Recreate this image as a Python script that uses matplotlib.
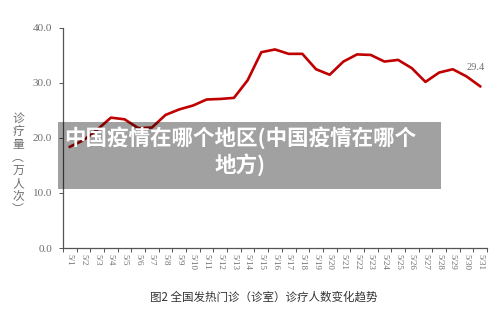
import matplotlib
matplotlib.use("Agg")
import matplotlib.pyplot as plt
from matplotlib.patches import Rectangle

plt.rcParams['font.family'] = ['Noto Sans CJK SC', 'DejaVu Sans']

# data (daily fever-clinic visits, 10k persons)
dates = ["5/%d" % d for d in range(1, 32)]
visits = [18.4, 19.6, 21.5, 23.7, 23.4, 21.8, 21.9, 24.2, 25.2, 25.9,
          27.0, 27.1, 27.3, 30.5, 35.6, 36.1, 35.3, 35.3, 32.5, 31.5,
          33.9, 35.2, 35.1, 33.9, 34.2, 32.7, 30.2, 31.9, 32.5, 31.2, 29.4]
yticks = [0, 10, 20, 30, 40]
ylabel_text = "诊疗量︵万人次︶"
caption = "图2 全国发热门诊（诊室）诊疗人数变化趋势"
banner = "中国疫情在哪个地区(中国疫情在哪个\n地方)"

grey = "#6e6e6e"
serif = ["Liberation Serif", "DejaVu Serif"]

fig = plt.figure(figsize=(5, 3.12), dpi=100)
ax = fig.add_axes([63 / 500, 1 - 248 / 312, 424 / 500, 220 / 312])

x = list(range(len(dates)))
ax.plot(x, visits, color="#c00000", lw=1.9, solid_joinstyle="round")
ax.text(x[-1] - 1.0, visits[-1] + 2.6, "%.1f" % visits[-1], fontsize=7.5,
        color=grey, family=serif, ha="left", va="bottom")

ax.set_xlim(-0.5, len(dates) - 0.5)
ax.set_ylim(0, 40)
ax.set_yticks(yticks)
ax.set_yticklabels(["%.1f" % v for v in yticks], family=serif, fontsize=8, color=grey)
ax.set_xticks(x)
ax.set_xticklabels(dates, rotation=-90, family=serif, fontsize=6.5, color=grey)
ax.set_xticks([i - 0.5 for i in range(len(dates) + 1)], minor=True)
ax.tick_params(axis="x", which="major", length=0, pad=4)
ax.tick_params(axis="x", which="minor", length=3, color="#555555", width=0.7)
ax.tick_params(axis="y", length=3, color="#555555", width=0.7, pad=5)

for s in ["top", "right"]:
    ax.spines[s].set_visible(False)
for s in ["left", "bottom"]:
    ax.spines[s].set_color("#555555")
    ax.spines[s].set_linewidth(0.9)

fig.text(18 / 500, 1 - 164 / 312, "\n".join(ylabel_text), ha="center", va="center",
         fontsize=8.5, color=grey, linespacing=1.0)

fig.text(264 / 500, 1 - 297 / 312, caption, ha="center", va="center",
         fontsize=8.3, color="#333333")

# grey overlay banner with title
fig.patches.append(Rectangle((58 / 500, 1 - 189 / 312), 383 / 500, 67 / 312,
                             transform=fig.transFigure, facecolor="black",
                             alpha=0.37, edgecolor="none", zorder=5))
fig.text(240 / 500, 1 - 151 / 312, banner, ha="center", va="center",
         fontsize=15.5, fontweight="bold", color="white", linespacing=1.25, zorder=6)

fig.savefig("out.png", dpi=100)
